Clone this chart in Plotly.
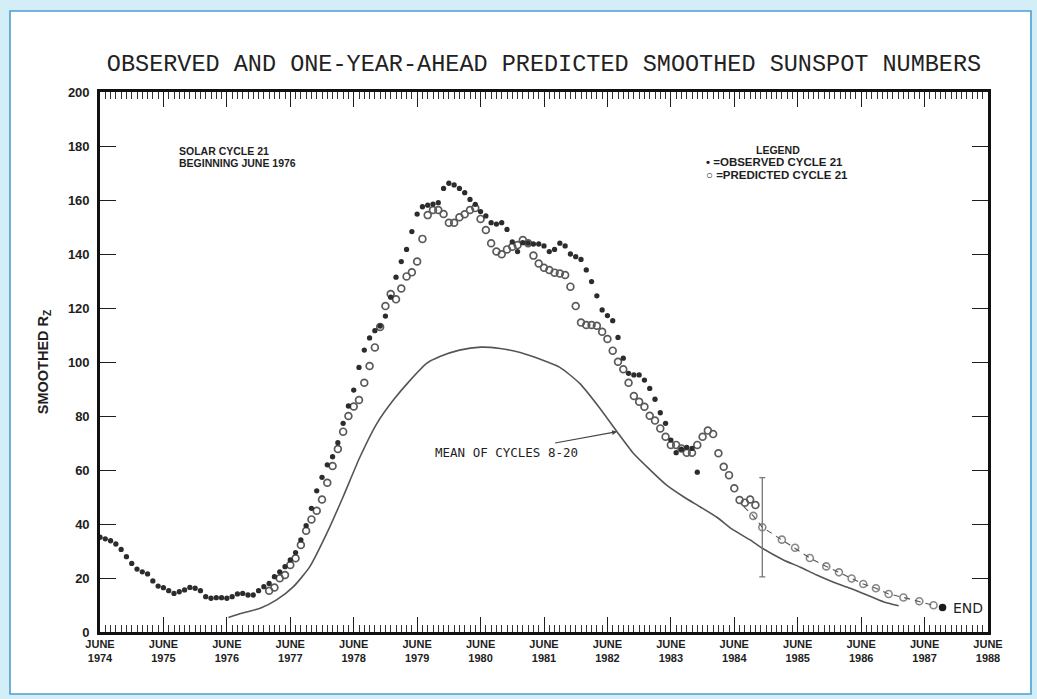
import plotly.graph_objects as go

# ---- data (x = months since June 1974) ----
obs_month = list(range(0, 114))
obs_value = [35.1, 34.5, 33.8, 32.6, 30.6, 27.9, 25.4, 23.3, 22.3, 21.5,
             18.9, 17.0, 16.4, 15.3, 14.3, 14.9, 15.6, 16.5, 16.2, 15.3,
             13.1, 12.5, 12.7, 12.7, 12.5, 13.1, 14.1, 14.3, 13.7, 13.7,
             15.3, 16.8, 18.0, 20.5, 22.3, 24.2, 26.7, 29.4, 34.1, 39.4,
             45.8, 52.3, 57.3, 61.9, 64.9, 70.1, 77.3, 83.7, 89.6, 98.0,
             104.4, 108.9, 111.6, 113.3, 117.0, 124.0, 131.4, 137.2, 141.7, 148.3,
             154.8, 157.5, 158.1, 158.5, 159.0, 164.3, 166.2, 165.6, 164.3, 162.7,
             160.2, 158.4, 155.7, 154.1, 151.6, 151.1, 151.6, 149.1, 144.5, 140.9,
             144.2, 144.0, 143.7, 143.7, 143.0, 140.9, 141.7, 144.0, 143.0, 140.0,
             139.0, 138.0, 134.1, 129.8, 124.5, 119.3, 117.2, 115.3, 109.1, 101.4,
             95.8, 95.2, 95.2, 93.3, 90.2, 86.2, 81.2, 77.3, 71.1, 66.4,
             67.7, 68.4, 68.0, 59.2]

pred_month = list(range(32, 125))
pred_value = [15.3, 16.5, 19.9, 21.1, 24.8, 27.3, 32.2, 37.5, 41.7, 44.9,
              49.1, 55.3, 61.5, 67.8, 74.2, 80.0, 83.5, 85.9, 92.3, 98.5,
              105.4, 113.0, 120.7, 125.2, 123.2, 127.2, 131.7, 133.2, 137.2, 145.6,
              154.4, 156.3, 156.3, 154.8, 151.6, 151.6, 153.6, 154.7, 156.3, 157.0,
              153.0, 148.9, 144.0, 140.9, 139.9, 141.7, 142.7, 143.3, 145.2, 144.0,
              139.4, 136.5, 134.9, 134.1, 133.1, 132.8, 132.2, 127.9, 120.7, 114.6,
              113.7, 113.7, 113.4, 111.2, 108.5, 104.2, 100.1, 97.3, 92.3, 87.4,
              85.3, 83.4, 80.1, 78.3, 75.4, 72.3, 69.3, 69.3, 68.0, 66.4,
              66.4, 69.3, 72.3, 74.6, 73.3, 66.2, 61.2, 58.1, 53.2, 48.9,
              47.9, 49.1, 47.0]

# long-range forecast (dashed), first entry is the start of the dashed line
fc_month = [121.8, 123.6, 125.3, 129.0, 131.5, 134.3, 137.4, 139.8, 142.2,
            144.4, 146.8, 149.2, 152.0, 155.0, 157.7]
fc_value = [46.4, 43.0, 38.8, 34.2, 31.2, 27.4, 24.3, 22.1, 19.8,
            17.8, 16.2, 14.1, 12.8, 11.4, 9.9]
err_month = [125.3]
err_value = [38.8]
err_half = [18.4]
end_month = [159.4]
end_value = [9.1]

mean_month = [24.3, 27.0, 30.3, 33.4, 36.6, 39.7, 42.9, 46.0, 49.2, 52.4,
              55.5, 58.7, 61.8, 64.3, 68.0, 72.0, 75.7, 79.5, 83.3, 87.0,
              90.8, 94.6, 97.8, 100.9, 104.1, 107.2, 110.4, 113.5, 116.7, 119.8,
              123.0, 125.3, 129.3, 132.5, 135.6, 138.8, 141.9, 145.1, 148.2, 151.1]
mean_value = [5.4, 7.0, 8.8, 11.9, 16.8, 24.2, 36.5, 50.1, 64.9, 77.3,
              85.9, 93.3, 99.5, 102.0, 104.4, 105.5, 105.0, 103.5, 101.0, 98.0,
              92.0, 82.8, 74.2, 66.2, 60.0, 54.4, 50.1, 46.4, 42.5, 37.8,
              34.1, 31.0, 26.7, 24.0, 21.1, 18.4, 16.2, 13.7, 11.2, 9.7]

tick_months = list(range(0, 169, 12))
tick_years = [str(1974 + i) for i in range(15)]

# ---- figure ----
W, H = 1037, 699
L, R, T, B = 100, 49, 92, 67
pw, ph = W - L - R, H - T - B

def px(xp):
    return (xp - L) / pw

def py(yp):
    return (H - B - yp) / ph

def mx(xp):
    return (xp - L) / pw * 168

def vy(yp):
    return (H - B - yp) / ph * 200

ink = "#1e1e1e"
fig = go.Figure()

fig.add_trace(go.Scatter(x=mean_month, y=mean_value, mode="lines",
                         line=dict(color="#555555", width=1.6, shape="spline", smoothing=0.6),
                         hoverinfo="skip", showlegend=False))
fig.add_trace(go.Scatter(x=fc_month, y=fc_value, mode="lines+markers",
                         line=dict(color="#555555", width=1.1, dash="6px,5px"),
                         marker=dict(symbol="circle-open", size=[0] + [7] * (len(fc_month) - 1),
                                     color="#555555", line=dict(width=1.6)),
                         showlegend=False))
fig.add_trace(go.Scatter(x=err_month, y=err_value, mode="markers",
                         marker=dict(size=0.1, color="rgba(0,0,0,0)"),
                         error_y=dict(type="data", array=err_half, color="#777777",
                                      thickness=1.3, width=3),
                         showlegend=False))
fig.add_trace(go.Scatter(x=pred_month, y=pred_value, mode="markers",
                         marker=dict(symbol="circle-open", size=6.8, color="#5a5a5a",
                                     line=dict(width=1.7)),
                         name="PREDICTED CYCLE 21", showlegend=False))
fig.add_trace(go.Scatter(x=obs_month, y=obs_value, mode="markers",
                         marker=dict(symbol="circle", size=5.3, color="#2c2c2c"),
                         name="OBSERVED CYCLE 21", showlegend=False))
fig.add_trace(go.Scatter(x=end_month, y=end_value, mode="markers",
                         marker=dict(symbol="circle", size=7.5, color="#1a1a1a"),
                         showlegend=False))

xfont = dict(family="Liberation Sans", size=11, color=ink, weight="bold")
yfont = dict(family="Liberation Sans", size=13, color=ink, weight="bold")
bold = lambda s: dict(family="Liberation Sans", size=s, color=ink, weight="bold")

fig.update_xaxes(range=[0, 168], tickmode="array", tickvals=tick_months,
                 ticktext=["JUNE<br>" + y for y in tick_years],
                 ticks="inside", ticklen=15, tickwidth=1.4, tickcolor=ink,
                 showline=True, linewidth=2.6, linecolor="#111111", mirror="ticks",
                 showgrid=False, zeroline=False, tickfont=xfont, automargin=False,
                 minor=dict(tickmode="linear", tick0=0, dtick=1, ticks="inside",
                            ticklen=7, tickwidth=1, tickcolor="#333333", showgrid=False))
fig.update_yaxes(range=[0, 200], tickmode="linear", tick0=0, dtick=20,
                 ticks="inside", ticklen=16, tickwidth=1.4, tickcolor=ink,
                 showline=True, linewidth=2.6, linecolor="#111111", mirror="ticks",
                 showgrid=False, zeroline=False, tickfont=yfont, ticklabelstandoff=5,
                 automargin=False,
                 title=dict(text="SMOOTHED R<sub>Z</sub>", font=bold(14.5), standoff=16))

annots = []
annots.append(dict(text="SOLAR CYCLE 21", xref="paper", yref="paper",
                   x=px(177), y=py(151), xanchor="left", yanchor="middle",
                   showarrow=False, font=bold(10.5)))
annots.append(dict(text="BEGINNING JUNE 1976", xref="paper", yref="paper",
                   x=px(177), y=py(163), xanchor="left", yanchor="middle",
                   showarrow=False, font=bold(10.5)))
annots.append(dict(text="LEGEND", xref="paper", yref="paper", x=px(778), y=py(150),
                   xanchor="center", yanchor="middle", showarrow=False, font=bold(10.5)))
annots.append(dict(text="• =OBSERVED CYCLE 21", xref="paper", yref="paper",
                   x=px(704), y=py(162), xanchor="left", yanchor="middle",
                   showarrow=False, font=bold(11.5)))
annots.append(dict(text="○ =PREDICTED CYCLE 21", xref="paper", yref="paper",
                   x=px(704), y=py(175), xanchor="left", yanchor="middle",
                   showarrow=False, font=bold(11.5)))
annots.append(dict(text="MEAN OF CYCLES 8-20", x=97.8, y=74.2, ax=mx(506), ay=vy(452),
                   axref="x", ayref="y", showarrow=True, arrowhead=2, arrowsize=0.8,
                   arrowwidth=1.2, arrowcolor="#444444",
                   font=dict(family="DejaVu Sans Mono", size=12.5, color=ink)))
annots.append(dict(text="END", xref="paper", yref="paper", x=px(951), y=py(608),
                   xanchor="left", yanchor="middle", showarrow=False,
                   font=dict(family="DejaVu Sans", size=14, color=ink)))

shapes = [dict(type="rect", xref="paper", yref="paper", x0=px(10), x1=px(1031), y0=py(694), y1=py(11),
               fillcolor="white", line=dict(color="#4a9fd4", width=1.6), layer="below")]

fig.update_layout(width=W, height=H, margin=dict(l=L, r=R, t=T, b=B, autoexpand=False),
                  paper_bgcolor="#d4eef7", plot_bgcolor="rgba(0,0,0,0)",
                  title=dict(text="OBSERVED AND ONE-YEAR-AHEAD PREDICTED SMOOTHED SUNSPOT NUMBERS",
                             x=0.5, xref="paper", xanchor="center", y=1 - 63 / H, yref="container",
                             yanchor="middle", font=dict(family="Liberation Mono", size=23.5, color="#222222")),
                  annotations=annots, shapes=shapes, showlegend=False)

fig.write_html("out.html", config={"displayModeBar": False},
               post_script="document.body.style.margin='0';document.body.style.overflow='hidden';")
